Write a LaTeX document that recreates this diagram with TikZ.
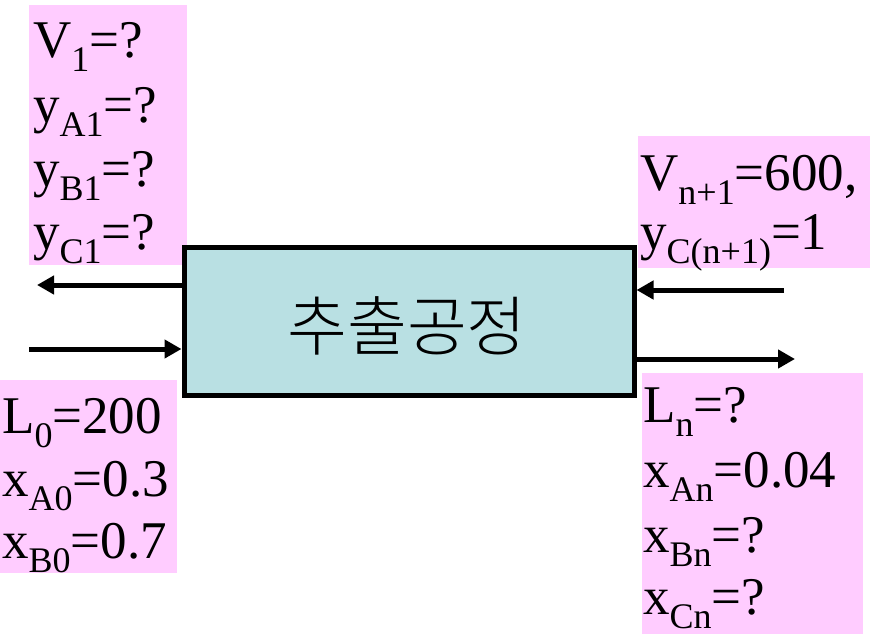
\documentclass[tikz,border=0pt]{standalone}
\usepackage{fontspec}
\setmainfont{Liberation Serif}
\newfontfamily\krfont{Noto Sans CJK KR Light}
\usetikzlibrary{arrows.meta}
\definecolor{pinkbg}{RGB}{255,204,255}
\definecolor{boxbg}{RGB}{185,224,227}
\newcommand\sbs[1]{\raisebox{-14pt}{\fontsize{36pt}{36pt}\selectfont #1}}
\tikzset{
  pinkbox/.style={fill=pinkbg, draw=none, anchor=north west, inner sep=0pt},
  txt/.style={anchor=base west, inner sep=0pt, font=\fontsize{53pt}{64pt}\selectfont},
  flow/.style={line width=5pt, -{Triangle[length=17pt,width=18pt]}},
  procbox/.style={draw=black, line width=5pt, fill=boxbg, inner sep=0pt,
    minimum width=450pt, minimum height=148pt}
}
\begin{document}
\begin{tikzpicture}[x=1pt,y=-1pt]
\useasboundingbox (0,0) rectangle (872,637);
% pink boxes
\node[pinkbox, minimum width=158pt, minimum height=260pt] (tl) at (29,5) {};
\node[pinkbox, minimum width=232pt, minimum height=132pt] (tr) at (638,136) {};
\node[pinkbox, minimum width=177pt, minimum height=193pt] (bl) at (0,380) {};
\node[pinkbox, minimum width=221pt, minimum height=261pt] (br) at (642,373) {};
% process box
\node[procbox] (box) at (409,321.5) {};
\node[inner sep=0pt, font=\krfont\fontsize{65pt}{65pt}\selectfont] (boxlabel) at (407,326) {추출공정};
% texts top-left
\node[txt] (v1) at (33,57) {V\sbs{1}=?};
\node[txt] (ya1) at (33,122) {y\sbs{A1}=?};
\node[txt] (yb1) at (33,186) {y\sbs{B1}=?};
\node[txt] (yc1) at (33,249) {y\sbs{C1}=?};
% top-right
\node[txt] (vn1) at (640,190) {V\sbs{n+1}=600,};
\node[txt] (ycn) at (640,249) {y\sbs{C(n+1)}=1};
% bottom-left
\node[txt] (l0) at (2,433) {L\sbs{0}=200};
\node[txt] (xa0) at (2,496) {x\sbs{A0}=0.3};
\node[txt] (xb0) at (2,558) {x\sbs{B0}=0.7};
% bottom-right
\node[txt] (ln) at (643,422) {L\sbs{n}=?};
\node[txt] (xan) at (643,487) {x\sbs{An}=0.04};
\node[txt] (xbn) at (643,552) {x\sbs{Bn}=?};
\node[txt] (xcn) at (643,614) {x\sbs{Cn}=?};
% arrows
\coordinate (vout) at (37,285);
\coordinate (lin) at (29,349);
\coordinate (vin) at (784,290);
\coordinate (lout) at (795,359);
\draw[flow] (box.west |- vout) -- (vout);
\draw[flow] (lin) -- (box.west |- lin);
\draw[flow] (vin) -- (box.east |- vin);
\draw[flow] (box.east |- lout) -- (lout);
\end{tikzpicture}
\end{document}
